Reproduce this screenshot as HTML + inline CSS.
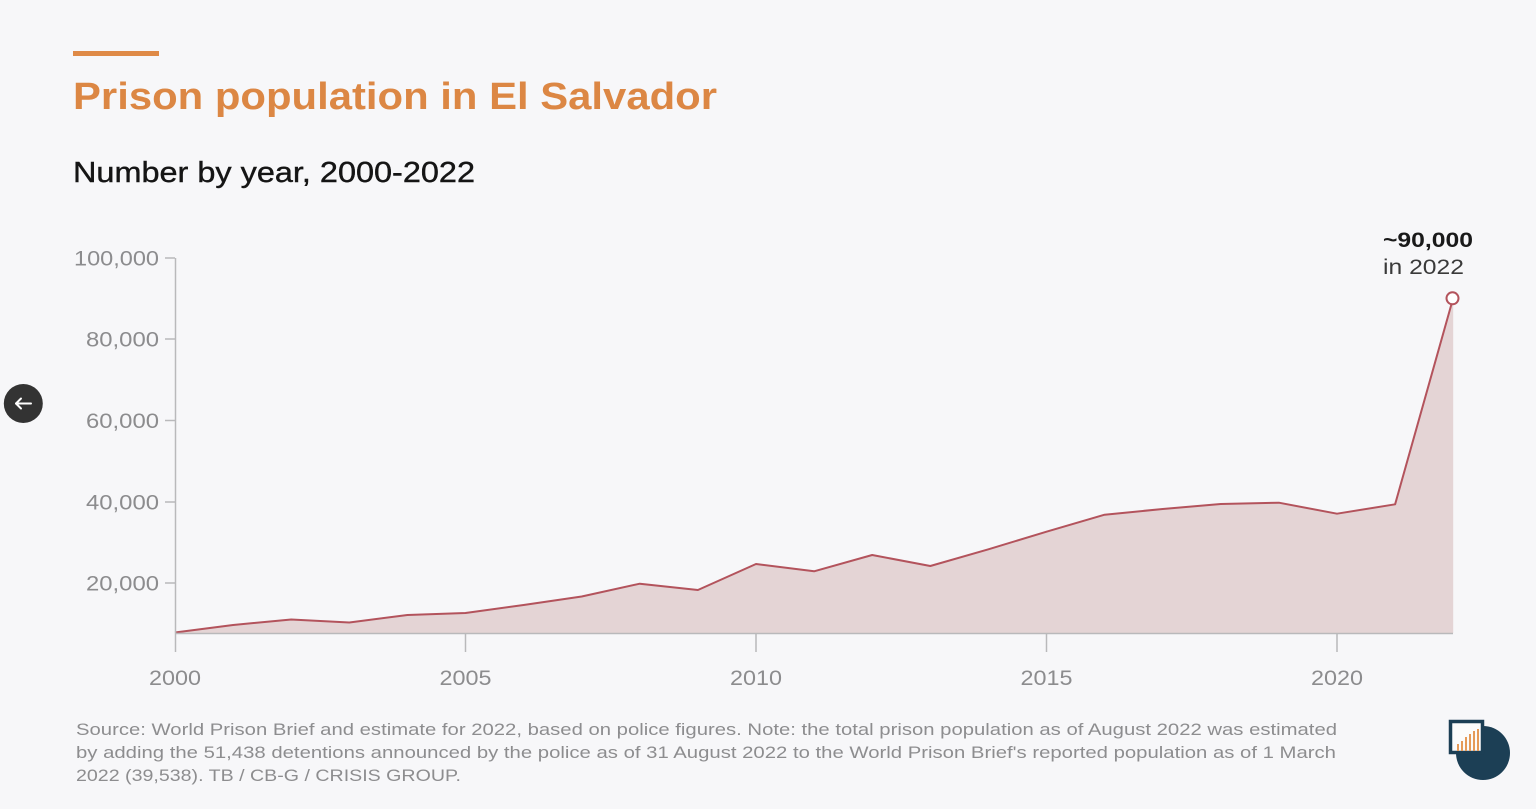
<!DOCTYPE html>
<html>
<head>
<meta charset="utf-8">
<style>
html,body{margin:0;padding:0;background:#f7f7f9;}
svg{display:block;}
text{font-family:"Liberation Sans",Arial,sans-serif;}
</style>
</head>
<body>
<svg width="1536" height="809" viewBox="0 0 1536 809" xmlns="http://www.w3.org/2000/svg">
<rect x="0" y="0" width="1536" height="809" fill="#f7f7f9"/>
<!-- header -->
<rect x="73" y="51" width="86" height="5" fill="#df8a47"/>
<text x="73" y="109" font-size="38" font-weight="bold" fill="#dc8744" textLength="644" lengthAdjust="spacingAndGlyphs">Prison population in El Salvador</text>
<text x="73" y="182" font-size="28.5" fill="#151515" stroke="#151515" stroke-width="0.4" textLength="402" lengthAdjust="spacingAndGlyphs">Number by year, 2000-2022</text>

<!-- area -->
<path d="M175,633 L175,632.5 L233.1,625 L291.2,619.5 L349.3,622.5 L407.4,615 L465.5,613 L523.6,605 L581.7,596.5 L639.8,583.7 L697.9,590 L756,564 L814.1,571.3 L872.2,555 L930.3,566 L988.4,549.3 L1046.5,531.7 L1104.6,514.7 L1162.7,509 L1220.8,504 L1278.9,502.7 L1337,513.7 L1395.1,504.3 L1453.2,298 L1453.2,633 Z" fill="#e4d4d5"/>
<path d="M175,632.5 L233.1,625 L291.2,619.5 L349.3,622.5 L407.4,615 L465.5,613 L523.6,605 L581.7,596.5 L639.8,583.7 L697.9,590 L756,564 L814.1,571.3 L872.2,555 L930.3,566 L988.4,549.3 L1046.5,531.7 L1104.6,514.7 L1162.7,509 L1220.8,504 L1278.9,502.7 L1337,513.7 L1395.1,504.3 L1453.2,298" fill="none" stroke="#b3535c" stroke-width="2" stroke-linejoin="round"/>

<!-- axes -->
<g stroke="#b9b9bb" stroke-width="1.5" fill="none">
<line x1="175.5" y1="258" x2="175.5" y2="652"/>
<line x1="175" y1="633.5" x2="1453" y2="633.5"/>
<line x1="165" y1="258" x2="175" y2="258"/>
<line x1="165" y1="339" x2="175" y2="339"/>
<line x1="165" y1="420.5" x2="175" y2="420.5"/>
<line x1="165" y1="502" x2="175" y2="502"/>
<line x1="165" y1="583" x2="175" y2="583"/>
<line x1="465.5" y1="633" x2="465.5" y2="652"/>
<line x1="756" y1="633" x2="756" y2="652"/>
<line x1="1046.5" y1="633" x2="1046.5" y2="652"/>
<line x1="1337" y1="633" x2="1337" y2="652"/>
</g>
<g font-size="21" fill="#8c8c8e" text-anchor="end">
<text x="159" y="265.5" textLength="85" lengthAdjust="spacingAndGlyphs">100,000</text>
<text x="159" y="346.5" textLength="73" lengthAdjust="spacingAndGlyphs">80,000</text>
<text x="159" y="428" textLength="73" lengthAdjust="spacingAndGlyphs">60,000</text>
<text x="159" y="509.5" textLength="73" lengthAdjust="spacingAndGlyphs">40,000</text>
<text x="159" y="590.5" textLength="73" lengthAdjust="spacingAndGlyphs">20,000</text>
</g>
<g font-size="21" fill="#8c8c8e" text-anchor="middle">
<text x="175" y="685" textLength="52" lengthAdjust="spacingAndGlyphs">2000</text>
<text x="465.5" y="685" textLength="52" lengthAdjust="spacingAndGlyphs">2005</text>
<text x="756" y="685" textLength="52" lengthAdjust="spacingAndGlyphs">2010</text>
<text x="1046.5" y="685" textLength="52" lengthAdjust="spacingAndGlyphs">2015</text>
<text x="1337" y="685" textLength="52" lengthAdjust="spacingAndGlyphs">2020</text>
</g>

<!-- annotation -->
<circle cx="1452.5" cy="298.3" r="6" fill="#ffffff" stroke="#b3535c" stroke-width="2"/>
<text x="1383" y="247" font-size="21" font-weight="bold" fill="#1a1a1a" textLength="90" lengthAdjust="spacingAndGlyphs">~90,000</text>
<text x="1383" y="274" font-size="21" fill="#3a3a3a" textLength="81" lengthAdjust="spacingAndGlyphs">in 2022</text>

<!-- footer -->
<g font-size="16.5" fill="#8d8d8f">
<text x="76" y="735" textLength="1261" lengthAdjust="spacingAndGlyphs">Source: World Prison Brief and estimate for 2022, based on police figures. Note: the total prison population as of August 2022 was estimated</text>
<text x="76" y="758" textLength="1260" lengthAdjust="spacingAndGlyphs">by adding the 51,438 detentions announced by the police as of 31 August 2022 to the World Prison Brief's reported population as of 1 March</text>
<text x="76" y="781" textLength="385" lengthAdjust="spacingAndGlyphs">2022 (39,538). TB / CB-G / CRISIS GROUP.</text>
</g>

<!-- left arrow button -->
<circle cx="23.3" cy="403.5" r="19.5" fill="#333333"/>
<g stroke="#ffffff" stroke-width="2" fill="none" stroke-linecap="round" stroke-linejoin="round">
<line x1="16" y1="403.5" x2="31" y2="403.5"/>
<polyline points="21,398.5 16,403.5 21,408.5"/>
</g>

<!-- logo -->
<circle cx="1483" cy="753" r="27" fill="#1c3f55"/>
<rect x="1450.5" y="721.5" width="32" height="31" fill="#fbfbfb" stroke="#1c3f55" stroke-width="3.5"/>
<g fill="#e59a58">
<rect x="1457" y="744" width="2" height="7"/>
<rect x="1461" y="741" width="2" height="10"/>
<rect x="1465" y="737" width="2" height="14"/>
<rect x="1469" y="734" width="2" height="17"/>
<rect x="1473" y="731" width="2" height="20"/>
<rect x="1477" y="729" width="2" height="22"/>
</g>
</svg>
</body>
</html>
